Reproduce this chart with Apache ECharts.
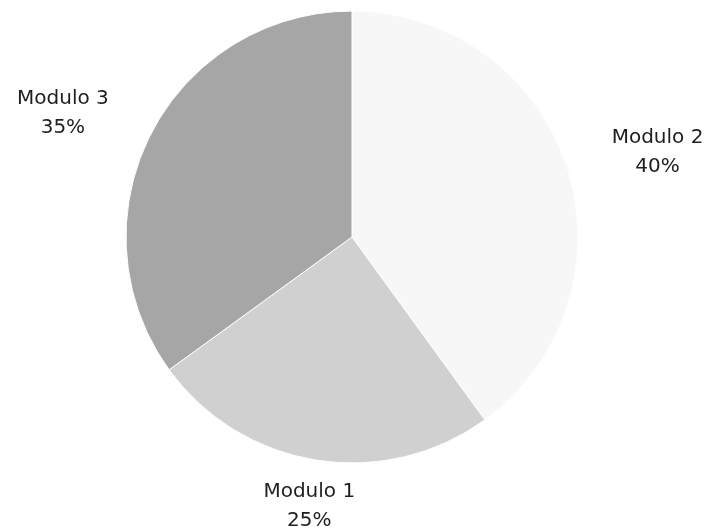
<!DOCTYPE html>
<html>
<head>
<meta charset="utf-8">
<script src="https://cdn.jsdelivr.net/npm/echarts@6/dist/echarts.min.js"></script>
<style>
  html, body { margin: 0; padding: 0; background: #fff; }
  #main { width: 727px; height: 529px; }
</style>
</head>
<body>
<div id="main"></div>
<script>
// data
var names = ['Modulo 2', 'Modulo 1', 'Modulo 3'];
var values = [40, 25, 35];
var colors = ['#f7f7f7', '#d0d0d0', '#a6a6a6'];

var cx = 352, cy = 237, R = 226;
var labelGap = 47; // distance from pie edge to label anchor

var total = values.reduce(function (a, b) { return a + b; }, 0);

// mid angle (clockwise from top) of each slice
function midAngle(idx) {
  var acc = 0;
  for (var i = 0; i < idx; i++) acc += values[i];
  return (acc + values[idx] / 2) / total * Math.PI * 2;
}

var chart = echarts.init(document.getElementById('main'), null, { renderer: 'canvas' });

var seriesData = [];
for (var i = 0; i < names.length; i++) {
  seriesData.push({ name: names[i], value: values[i], itemStyle: { color: colors[i] } });
}

chart.setOption({
  animation: false,
  backgroundColor: '#ffffff',
  series: [{
    type: 'pie',
    center: [cx, cy],
    radius: R,
    startAngle: 90,
    clockwise: true,
    data: seriesData,
    itemStyle: { borderColor: '#ffffff', borderWidth: 1 },
    label: {
      show: true,
      position: 'outside',
      formatter: function (p) { return p.name + '\n' + p.value + '%'; },
      fontFamily: 'DejaVu Sans',
      fontSize: 20,
      lineHeight: 29,
      color: '#1e1e1e'
    },
    labelLine: { show: false },
    emphasis: { disabled: true },
    labelLayout: function (p) {
      var a = midAngle(p.dataIndex);
      var s = Math.sin(a), c = Math.cos(a);
      var ax = cx + (R + labelGap) * s;
      var ay = cy - (R + labelGap) * c;
      var w = p.labelRect.width;
      var x = ax;
      if (Math.abs(s) > 0.3) x = ax + (s > 0 ? 1 : -1) * w / 2;
      return { x: x, y: ay, align: 'center', verticalAlign: 'middle' };
    }
  }]
});
</script>
</body>
</html>
